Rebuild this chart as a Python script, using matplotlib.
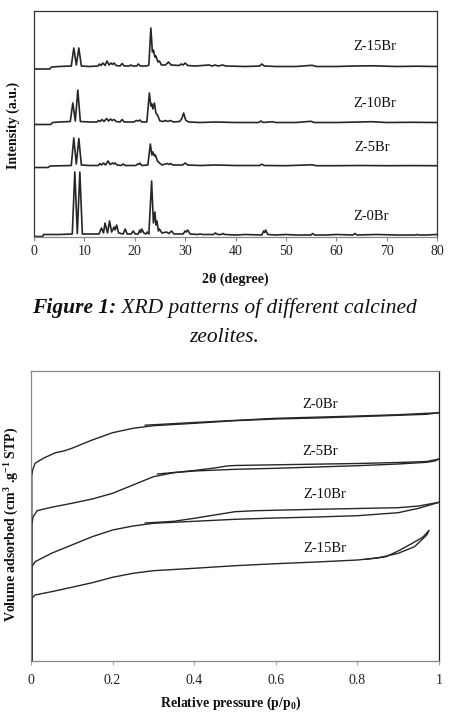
import matplotlib
matplotlib.use("Agg")
import matplotlib.pyplot as plt
import numpy as np

plt.rcParams['font.family'] = ['Liberation Serif', 'DejaVu Serif']
plt.rcParams['mathtext.fontset'] = 'custom'
plt.rcParams['mathtext.rm'] = 'Liberation Serif:bold'
plt.rcParams['mathtext.it'] = 'Liberation Serif:bold:italic'
plt.rcParams['mathtext.bf'] = 'Liberation Serif:bold'

# ---------------- XRD data (2theta, intensity a.u. incl. vertical offset) ----------------
xrd_names = ["Z-0Br", "Z-5Br", "Z-10Br", "Z-15Br"]
xrd_ticks = [0, 10, 20, 30, 40, 50, 60, 70, 80]

xrd_z0 = [(0, 0.5), (1.7, 0.5), (1.9, 2.5), (5, 2.5), (7.6, 3), (8.1, 65), (8.6, 3.5), (9.1, 65), (9.6, 3),
          (12.9, 3), (13.4, 9), (13.8, 4), (14.1, 14), (14.6, 4), (15.0, 16), (15.4, 5), (15.9, 10),
          (16.1, 7), (16.4, 12), (16.8, 4), (17.7, 3), (18.1, 8), (18.5, 3), (19.3, 3), (19.7, 6),
          (20.1, 3), (20.7, 3), (21.0, 7), (21.2, 4.5), (21.4, 8), (21.8, 4), (22.2, 3), (22.5, 5),
          (22.8, 3), (23.35, 56), (23.7, 14), (24.0, 25), (24.2, 12), (24.4, 16), (24.7, 6), (24.9, 8),
          (25.4, 4), (26.3, 5), (26.8, 3.5), (27.3, 6), (27.8, 3), (29.6, 3), (30.0, 6), (30.2, 5),
          (30.5, 7), (31.0, 3), (32.5, 2.5), (33.0, 3), (33.5, 2.5), (35.6, 2.5), (36.0, 4), (36.5, 2.5),
          (37.2, 2.5), (37.5, 3.5), (37.9, 2.5), (40, 2), (42, 2.5), (45.2, 2), (45.6, 6), (45.8, 4.5),
          (46.0, 7), (46.4, 2.5), (48, 2), (50, 2.5), (52, 2), (55.0, 2), (55.3, 3.5), (55.7, 2),
          (58, 2), (60, 2.5), (63.3, 2), (63.7, 3.5), (64.1, 2), (68, 2.5), (72, 2), (75.7, 2),
          (76.0, 2.5), (76.4, 2), (78, 2), (80, 2.5)]

xrd_z5 = [(0, 69.5), (2.8, 69.5), (3.2, 71), (5, 71.2), (7.4, 71.5), (7.9, 99), (8.4, 73), (8.9, 98.5),
          (9.4, 72), (11, 71.5), (12.8, 71.5), (13.1, 73.5), (13.4, 72), (13.8, 74), (14.2, 72),
          (14.7, 76), (15.1, 72.5), (15.6, 74), (15.9, 73), (16.1, 74), (16.5, 72), (17.3, 71.5),
          (17.7, 73), (18.1, 71.5), (20.2, 71.5), (20.6, 73), (20.8, 72.5), (21.0, 74), (21.4, 71.5),
          (22.6, 72), (23.1, 93), (23.4, 82), (23.6, 85), (23.9, 81), (24.1, 82), (24.5, 76), (24.9, 74),
          (25.4, 72), (26.4, 73.5), (26.8, 72.5), (27.1, 73.5), (27.6, 72), (29.5, 72), (30.0, 74),
          (30.5, 72), (33, 71.5), (36, 72), (40, 71.5), (44.8, 71.5), (45.2, 72.8), (45.7, 71.5),
          (50, 71.3), (55.2, 72.2), (56, 71.3), (60, 71.3), (65, 71.5), (70, 71.3), (75, 71.4), (80, 71.3)]

xrd_z10 = [(0, 112.5), (3.3, 112.5), (3.7, 114.5), (5, 115), (7.2, 115.5), (7.7, 134), (8.2, 116),
           (8.7, 147), (9.2, 115.5), (11, 115), (12.5, 115), (12.8, 116.5), (13.1, 115.5), (13.5, 117.5),
           (13.9, 115.5), (14.4, 118.5), (14.8, 116), (15.2, 118), (15.5, 116.5), (15.9, 117.5),
           (16.3, 115.5), (17.1, 115), (17.5, 117.5), (17.9, 115), (19.8, 115), (20.3, 116.5),
           (20.7, 116), (21.0, 117), (21.4, 115), (22.4, 115), (22.9, 144), (23.2, 131), (23.4, 133),
           (23.6, 128), (23.9, 134), (24.2, 124), (24.5, 122), (25.0, 116), (25.6, 115.5), (26.1, 116.5),
           (26.6, 115.5), (27.1, 116.5), (27.7, 115), (28.9, 115.5), (29.3, 118), (29.7, 124), (30.1, 117),
           (30.7, 115), (33, 114.5), (36, 115), (40, 114.5), (44.6, 114.5), (45.0, 116), (45.5, 114.5),
           (47.3, 115.3), (48, 114.5), (52, 114.5), (55.0, 115.7), (55.6, 114.5), (60, 114.5),
           (63, 114.8), (67.0, 115.3), (70, 114.5), (75, 114.7), (80, 114.5)]

xrd_z15 = [(0, 168), (3.1, 168), (3.5, 170), (5, 170.5), (7.4, 171), (7.9, 189), (8.4, 172), (8.9, 189),
           (9.4, 171), (11, 170.5), (12.7, 171), (13.0, 173), (13.3, 171.5), (13.7, 174), (14.1, 171.5),
           (14.5, 176), (14.9, 172), (15.3, 174), (15.6, 172.5), (15.9, 174), (16.3, 171.5), (17.1, 171),
           (17.5, 173.5), (17.9, 171), (18.9, 171), (19.2, 172), (19.6, 171), (20.4, 171), (20.7, 173),
           (21.1, 171), (22.4, 171), (22.8, 172), (23.2, 209), (23.5, 185), (23.7, 187), (24.0, 180),
           (24.2, 181), (24.6, 175), (24.9, 176), (25.3, 172), (26.1, 172), (26.7, 175), (27.2, 172),
           (28.8, 171.5), (29.2, 173), (29.6, 172), (30.0, 174), (30.5, 171.5), (32, 171), (34.8, 172),
           (35.3, 171), (36.0, 172), (36.5, 171), (37.5, 172), (38, 171), (42, 170.5), (44.8, 171),
           (45.2, 173), (45.7, 171), (48, 170.5), (52, 170.5), (55.2, 171.7), (56, 170.5), (60, 170.5),
           (63.5, 171), (67.5, 171.2), (72, 170.5), (76, 170.8), (80, 170.5)]

xrd_label_pos = [(67.0, 14.3), (67.2, 83), (67.7, 127), (67.7, 184)]

# ---------------- Isotherm data (p/p0, volume a.u. incl. offset) ----------------
iso_names = ["Z-0Br", "Z-5Br", "Z-10Br", "Z-15Br"]
iso_ticks = [0, 0.2, 0.4, 0.6, 0.8, 1.0]
iso_tick_labels = ["0", "0.2", "0.4", "0.6", "0.8", "1"]

z0_ads = [(0.002, 0), (0.002, 185), (0.004, 191), (0.01, 197.7), (0.03, 202.7), (0.06, 208.3),
          (0.08, 210), (0.1, 212.7), (0.15, 221), (0.2, 228.3), (0.25, 232.7), (0.3, 235.3),
          (0.4, 237.7), (0.5, 240.3), (0.6, 242), (0.7, 243), (0.8, 244.3), (0.9, 245.7),
          (0.97, 246.7), (1.0, 248.3)]
z0_des = [(1.0, 248.3), (0.9, 246.3), (0.8, 245), (0.6, 242.7), (0.4, 238.5), (0.28, 235.8)]

z5_ads = [(0.002, 0), (0.002, 136), (0.005, 144), (0.015, 150.3), (0.05, 153.7), (0.1, 157.7),
          (0.15, 162), (0.2, 167.7), (0.25, 176), (0.3, 184.3), (0.35, 188.3), (0.4, 190),
          (0.5, 191.7), (0.6, 192.7), (0.7, 194), (0.8, 195.3), (0.9, 197), (0.97, 198.7),
          (0.99, 200), (1.0, 202)]
z5_des = [(1.0, 202), (0.97, 199.5), (0.9, 198.5), (0.8, 197.5), (0.6, 196.2), (0.5, 195.5),
          (0.48, 195), (0.45, 193), (0.4, 190.5), (0.35, 188.5), (0.31, 187)]

z10_ads = [(0.002, 0), (0.002, 94.3), (0.01, 99.3), (0.05, 107.7), (0.1, 116), (0.15, 124.3),
           (0.2, 131), (0.25, 135), (0.3, 137.7), (0.4, 139.7), (0.5, 141.7), (0.6, 143), (0.7, 144),
           (0.8, 145.3), (0.9, 148.3), (0.95, 152.7), (1.0, 158.7)]
z10_des = [(1.0, 158.7), (0.95, 155), (0.9, 153.3), (0.7, 151.7), (0.55, 150.3), (0.5, 149.3),
           (0.45, 146), (0.4, 142.7), (0.35, 139.7), (0.28, 138)]

z15_ads = [(0.002, 0), (0.002, 62.7), (0.01, 66), (0.05, 69.3), (0.1, 73.7), (0.15, 78.3),
           (0.2, 83.7), (0.25, 87.7), (0.3, 90.3), (0.4, 92.7), (0.5, 95.3), (0.6, 97.3), (0.7, 99),
           (0.8, 101), (0.85, 103), (0.9, 107.7), (0.94, 114.3), (0.97, 126), (0.975, 130.3)]
z15_des = [(0.975, 130.3), (0.96, 123.7), (0.93, 116.7), (0.9, 110), (0.87, 104.3), (0.82, 101.7)]

iso_label_pos = [(0.708, 257), (0.708, 209.3), (0.72, 166), (0.72, 112.7)]

caption_bold = "Figure 1:"
caption_rest = " XRD patterns of different calcined"
caption_line2 = "zeolites."

# ---------------- Figure ----------------
W, H = 449, 717
fig = plt.figure(figsize=(W / 100, H / 100), dpi=100)

def fx(px):
    return px / W

def fy(py):
    return 1 - py / H

# Top: XRD
ax1 = fig.add_axes([fx(34), fy(237), fx(437) - fx(34), fy(11) - fy(237)])
for tr in [xrd_z0, xrd_z5, xrd_z10, xrd_z15]:
    xs, ys = zip(*tr)
    ax1.plot(xs, ys, color='#262626', lw=1.2, solid_joinstyle='round')
for name, (lx, ly) in zip(xrd_names, xrd_label_pos):
    ax1.text(lx, ly, name, ha='center', va='bottom', fontsize=10.5, color='#111111')
ax1.set_xlim(0, 80)
ax1.set_ylim(0, 226)
ax1.set_xticks(xrd_ticks)
ax1.set_yticks([])
ax1.tick_params(axis='x', direction='out', length=3, width=0.8, color='#888888',
                pad=2.5, labelsize=10, labelcolor='#222222')
for s in ['top', 'left', 'right']:
    ax1.spines[s].set_color('#333333')
    ax1.spines[s].set_linewidth(0.9)
ax1.spines['bottom'].set_color('#888888')
ax1.spines['bottom'].set_linewidth(0.9)

fig.text(fx(235), fy(279), r"2θ (degree)", ha='center', va='center', fontsize=10,
         fontweight='bold', color='#111111')
fig.text(fx(13), fy(125), "Intensity (a.u.)", ha='center', va='center', rotation=90,
         fontsize=10, fontweight='bold', color='#111111')

# Caption
t1 = fig.text(0, fy(313), caption_bold, ha='left', va='baseline', fontsize=15.5,
              fontweight='bold', fontstyle='italic', color='#111111')
t2 = fig.text(0, fy(313), caption_rest, ha='left', va='baseline', fontsize=15.5,
              fontstyle='italic', color='#111111')
fig.canvas.draw()
r = fig.canvas.get_renderer()
w1 = t1.get_window_extent(r).width
w2 = t2.get_window_extent(r).width
start = (W - (w1 + w2)) / 2
t1.set_x(fx(start))
t2.set_x(fx(start + w1))
fig.text(0.5, fy(342), caption_line2, ha='center', va='baseline', fontsize=15.5,
         fontstyle='italic', color='#111111')

# Bottom: isotherms
ax2 = fig.add_axes([fx(31), fy(661), fx(439) - fx(31), fy(371) - fy(661)])
for tr in [z0_ads, z0_des, z5_ads, z5_des, z10_ads, z10_des, z15_ads, z15_des]:
    xs, ys = zip(*tr)
    ax2.plot(xs, ys, color='#262626', lw=1.0)
for name, (lx, ly) in zip(iso_names, iso_label_pos):
    ax2.text(lx, ly, name, ha='center', va='center', fontsize=10.5, color='#111111')
ax2.set_xlim(0, 1)
ax2.set_ylim(0, 290)
ax2.set_xticks(iso_ticks)
ax2.set_xticklabels(iso_tick_labels)
ax2.set_yticks([])
ax2.tick_params(axis='x', direction='out', length=3, width=0.8, color='#aaaaaa',
                pad=6, labelsize=10, labelcolor='#222222')
for s in ['top', 'left', 'bottom']:
    ax2.spines[s].set_color('#888888')
    ax2.spines[s].set_linewidth(0.9)
ax2.spines['right'].set_color('#222222')
ax2.spines['right'].set_linewidth(0.9)

fig.text(fx(231), fy(703), r"Relative pressure (p/p$_{0}$)", ha='center', va='center',
         fontsize=10, fontweight='bold', color='#111111')
fig.text(fx(12), fy(524), r"Volume adsorbed (cm$^{3}$ .g$^{-1}$ STP)", ha='center',
         va='center', rotation=90, fontsize=10, fontweight='bold', color='#111111')

fig.savefig("out.png", dpi=100)
